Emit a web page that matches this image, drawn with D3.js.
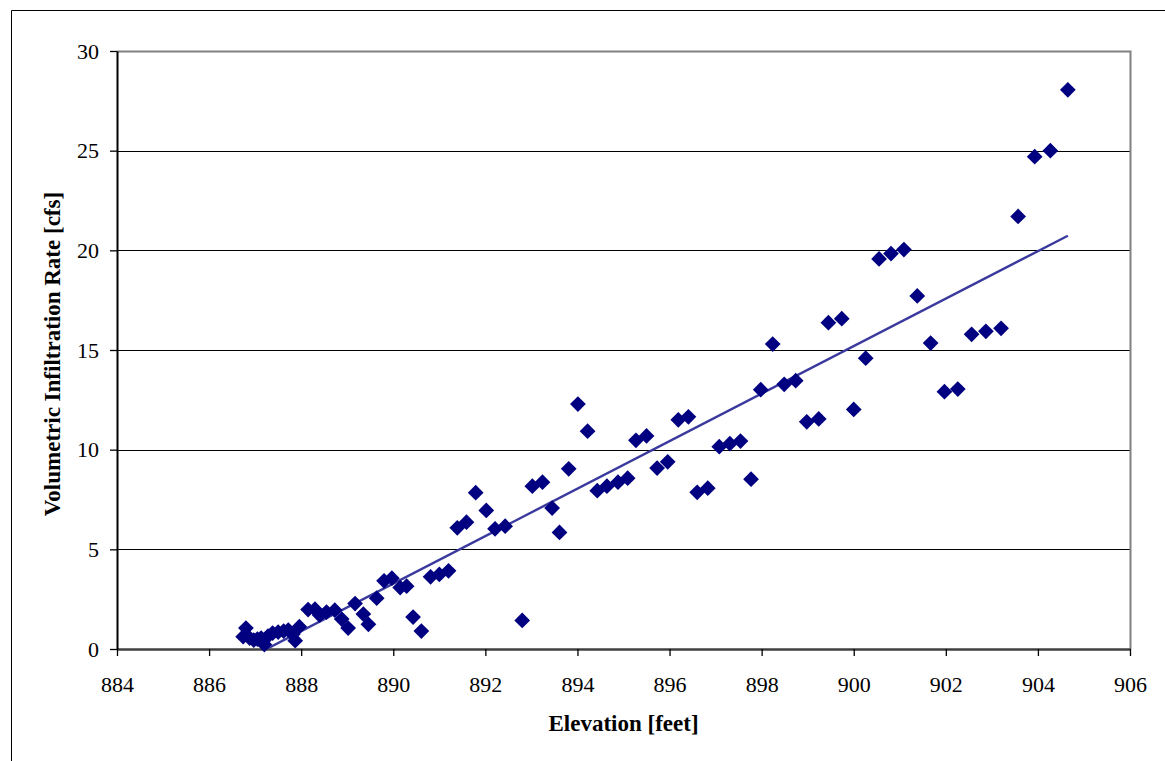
<!DOCTYPE html>
<html>

<head>
    <meta charset=utf-8 />
    <script src="https://cdn.jsdelivr.net/npm/d3@7"></script>
    <title>infiltration vs elevation</title>
    <style>
        html,
        body {
            margin: 0;
            padding: 0;
            background: white;
        }

        svg {
            display: block;
            font-family: "Liberation Serif", "Times New Roman", serif;
        }
    </style>
</head>

<body>
    <svg width="1165" height="761"></svg>
    <script>
        // elevation [feet] and rate [cfs]
        var elevation = [
            886.74, 886.80, 886.88, 886.97, 887.05, 887.13, 887.20, 887.28, 887.38, 887.50,
            887.62, 887.72, 887.82, 887.87, 887.96, 888.15, 888.30, 888.40, 888.55, 888.73,
            888.88, 889.02, 889.17, 889.35, 889.46, 889.64, 889.80, 889.97, 890.15, 890.29,
            890.43, 890.61, 890.81, 891.00, 891.20, 891.39, 891.59, 891.79, 892.02, 892.21,
            892.43, 892.80, 893.02, 893.24, 893.45, 893.61, 893.81, 894.01, 894.22, 894.43,
            894.64, 894.88, 895.09, 895.27, 895.50, 895.73, 895.96, 896.19, 896.41, 896.60,
            896.83, 897.08, 897.31, 897.54, 897.77, 897.98, 898.24, 898.49, 898.74, 898.98,
            899.24, 899.45, 899.74, 900.00, 900.26, 900.55, 900.81, 901.09, 901.38, 901.67,
            901.97, 902.26, 902.56, 902.87, 903.20, 903.57, 903.93, 904.27, 904.65
        ];
        var rate = [
            0.62, 1.05, 0.55, 0.45, 0.50, 0.55, 0.22, 0.65, 0.80, 0.85,
            0.90, 0.95, 0.75, 0.42, 1.12, 1.98, 2.00, 1.70, 1.85, 1.95,
            1.50, 1.05, 2.28, 1.75, 1.24, 2.55, 3.42, 3.55, 3.08, 3.15,
            1.60, 0.90, 3.62, 3.74, 3.92, 6.08, 6.36, 7.84, 6.95, 6.03,
            6.16, 1.43, 8.17, 8.37, 7.07, 5.85, 9.04, 12.29, 10.93, 7.94,
            8.17, 8.37, 8.57, 10.47, 10.69, 9.08, 9.39, 11.50, 11.65, 7.86,
            8.07, 10.15, 10.30, 10.43, 8.52, 13.01, 15.30, 13.28, 13.46, 11.40,
            11.54, 16.37, 16.57, 12.02, 14.59, 19.57, 19.84, 20.04, 17.71, 15.35,
            12.91, 13.04, 15.79, 15.94, 16.09, 21.70, 24.70, 25.00, 28.05
        ];
        var xTicks = [884, 886, 888, 890, 892, 894, 896, 898, 900, 902, 904, 906];
        var yTicks = [0, 5, 10, 15, 20, 25, 30];

        var points = elevation.map(function (e, i) {
            return { x: e, y: rate[i] };
        });

        var pLeft = 117, pRight = 1130, pTop = 51, pBottom = 649;

        var x = d3.scaleLinear().domain([884, 906]).range([pLeft, pRight]);
        var y = d3.scaleLinear().domain([0, 30]).range([pBottom, pTop]);

        var svg = d3.select('svg');

        // outer chart frame (runs off the picture on right and bottom)
        svg.append('path')
            .attr('d', 'M11.5,761 L11.5,10.5 L1166,10.5')
            .attr('fill', 'none')
            .attr('stroke', '#000')
            .attr('stroke-width', 1);

        var defs = svg.append('defs');
        defs.append('clipPath').attr('id', 'plotclip')
            .append('rect')
            .attr('x', pLeft).attr('y', pTop)
            .attr('width', pRight - pLeft).attr('height', pBottom - pTop);

        // gridlines
        svg.append('g')
            .selectAll('line')
            .data(yTicks.slice(1, -1))
            .enter().append('line')
            .attr('x1', pLeft).attr('x2', pRight)
            .attr('y1', function (d) { return Math.round(y(d)) + 0.5; })
            .attr('y2', function (d) { return Math.round(y(d)) + 0.5; })
            .attr('stroke', '#000')
            .attr('stroke-width', 1);

        // plot border (top, right) in gray
        svg.append('path')
            .attr('d', 'M' + pLeft + ',' + (pTop + 0.5) + ' L' + (pRight + 0.5) + ',' + (pTop + 0.5) + ' L' + (pRight + 0.5) + ',' + pBottom)
            .attr('fill', 'none')
            .attr('stroke', '#808080')
            .attr('stroke-width', 2);

        // axes
        var xAxis = svg.append('g')
            .attr('transform', 'translate(0,' + pBottom + ')')
            .call(d3.axisBottom(x).tickValues(xTicks).tickSize(7).tickPadding(20).tickSizeOuter(0));
        var yAxis = svg.append('g')
            .attr('transform', 'translate(' + pLeft + ',0)')
            .call(d3.axisLeft(y).tickValues(yTicks).tickSize(7).tickPadding(11).tickSizeOuter(0));

        [xAxis, yAxis].forEach(function (g) {
            g.selectAll('text')
                .attr('font-family', '"Liberation Serif", "Times New Roman", serif')
                .attr('font-size', 22)
                .attr('fill', '#000');
            g.selectAll('line').attr('stroke', '#000').attr('stroke-width', 1.3);
            g.select('.domain').attr('stroke', '#000').attr('stroke-width', 2);
        });
        xAxis.select('.domain').attr('stroke', '#404040').attr('stroke-width', 2.5);

        // linear trendline from least squares
        var mx = d3.mean(elevation), my = d3.mean(rate);
        var sxy = d3.sum(points, function (p) { return (p.x - mx) * (p.y - my); });
        var sxx = d3.sum(points, function (p) { return (p.x - mx) * (p.x - mx); });
        var slope = sxy / sxx;
        var icpt = my - slope * mx;
        var ext = d3.extent(elevation);
        var trend = ext.map(function (e) { return { x: e, y: icpt + slope * e }; });

        svg.append('path')
            .datum(trend)
            .attr('clip-path', 'url(#plotclip)')
            .attr('d', d3.line().x(function (d) { return x(d.x); }).y(function (d) { return y(d.y); }))
            .attr('fill', 'none')
            .attr('stroke', '#3a3a9e')
            .attr('stroke-width', 2.4);

        // diamond markers
        var diamond = d3.symbol().type(d3.symbolSquare).size(124);
        svg.append('g')
            .selectAll('path')
            .data(points)
            .enter().append('path')
            .attr('transform', function (d) {
                return 'translate(' + x(d.x) + ',' + y(d.y) + ') rotate(45)';
            })
            .attr('d', diamond)
            .attr('fill', '#000080');

        // axis titles
        svg.append('text')
            .attr('x', (pLeft + pRight) / 2)
            .attr('y', 731)
            .attr('text-anchor', 'middle')
            .attr('font-size', 23)
            .attr('font-weight', 'bold')
            .text('Elevation [feet]');

        svg.append('text')
            .attr('transform', 'translate(60,' + ((pTop + pBottom) / 2 + 4) + ') rotate(-90)')
            .attr('text-anchor', 'middle')
            .attr('font-size', 23)
            .attr('font-weight', 'bold')
            .text('Volumetric Infiltration Rate [cfs]');
    </script>
</body>

</html>
